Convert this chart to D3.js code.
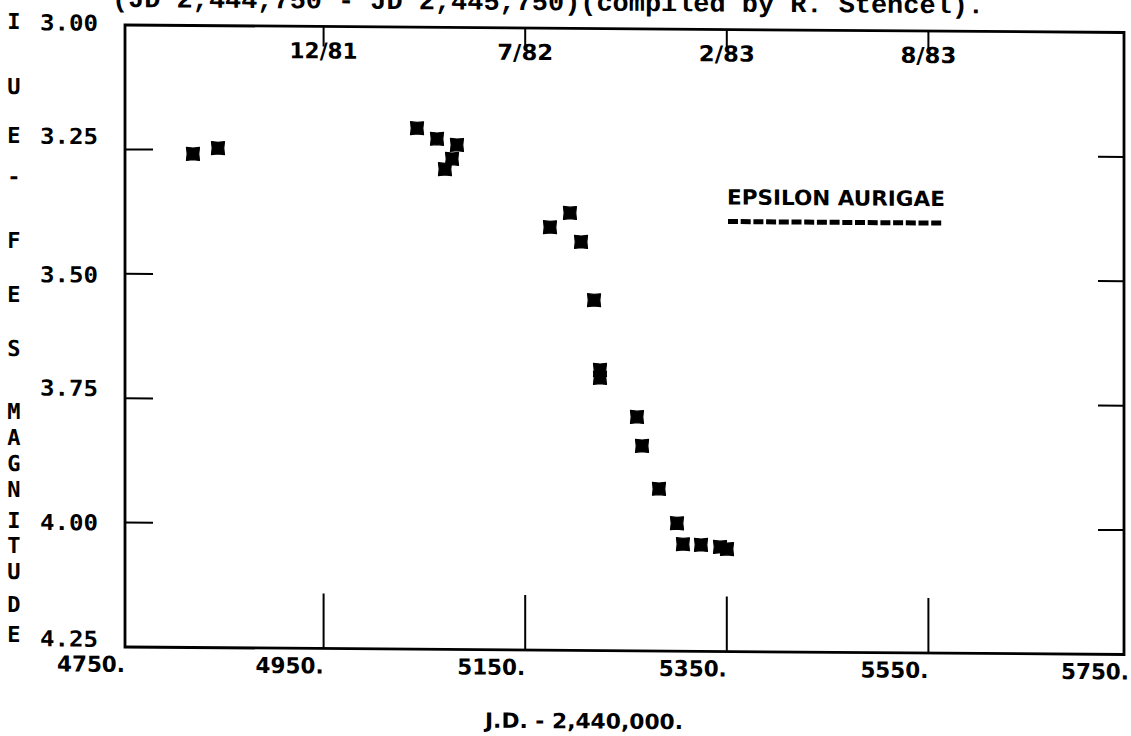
<!DOCTYPE html>
<html>
<head>
<meta charset="utf-8">
<script src="https://cdn.jsdelivr.net/npm/d3@7"></script>
<style>
  html, body { margin: 0; padding: 0; background: #fff; }
  svg { display: block; }
</style>
</head>
<body>
<svg id="chart" width="1131" height="736"></svg>
<script>
// ---- data ----
const jd = [4820.4, 4845.2, 5042.7, 5062.5, 5082.3, 5077.4, 5070.4, 5174.6, 5194.4, 5205.4,
            5218.3, 5224.2, 5224.2, 5260.9, 5265.9, 5282.7, 5300.6, 5306.5, 5324.4, 5343.3, 5350.2];
const magnitude = [3.258, 3.246, 3.203, 3.224, 3.236, 3.264, 3.285, 3.400, 3.371, 3.429,
                   3.546, 3.686, 3.702, 3.780, 3.838, 3.924, 3.993, 4.035, 4.036, 4.040, 4.044];
const xTickValues = [4750, 4950, 5150, 5350, 5550, 5750];
const xTickLabels = ["4750.", "4950.", "5150.", "5350.", "5550.", "5750."];
const topTickValues = [4950, 5150, 5350, 5550];
const topTickLabels = ["12/81", "7/82", "2/83", "8/83"];
const yTickValues = [3.00, 3.25, 3.50, 3.75, 4.00, 4.25];
const yTickLabels = ["3.00", "3.25", "3.50", "3.75", "4.00", "4.25"];
const yAxisLetters = ["I", "U", "E", "-", "F", "E", "S", "M", "A", "G", "N", "I", "T", "U", "D", "E"];
const seriesName = "EPSILON AURIGAE";
const titleText = "(JD 2,444,750 - JD 2,445,750)(compiled by R. Stencel).";
const xAxisTitle = "J.D. - 2,440,000.";

// ---- drawing ----
const svg = d3.select("#chart");
// slight skew of the scanned page
const skew = 0.0075;
const g = svg.append("g").attr("transform", `matrix(1,${skew},0,1,0,${-skew * 125})`);

const x = d3.scaleLinear().domain([4750, 5750]).range([122, 1130]);
const y = d3.scaleLinear().domain([3.0, 4.25]).range([25, 647]);

const frameL = 125, frameR = 1124, frameT = y(3.0), frameB = y(4.25);
const ink = "#000";
const plotFont = "DejaVu Sans Condensed, DejaVu Sans, sans-serif";
const monoFont = "DejaVu Sans Mono, monospace";

// title (cut off at top, as in the scan)
g.append("text")
  .attr("x", 112).attr("y", 7)
  .attr("font-family", "Liberation Mono, DejaVu Sans Mono, monospace")
  .attr("font-weight", "bold").attr("font-size", 26)
  .attr("textLength", 872).attr("lengthAdjust", "spacingAndGlyphs")
  .attr("fill", ink).text(titleText);

// frame
g.append("rect")
  .attr("x", frameL).attr("y", frameT)
  .attr("width", frameR - frameL).attr("height", frameB - frameT)
  .attr("fill", "none").attr("stroke", ink).attr("stroke-width", 2.8);

// bottom inner ticks + labels
const innerX = xTickValues.slice(1, -1);
g.append("g").selectAll("line").data(innerX).join("line")
  .attr("x1", d => x(d)).attr("x2", d => x(d))
  .attr("y1", frameB).attr("y2", frameB - 55)
  .attr("stroke", ink).attr("stroke-width", 2);
g.append("g").selectAll("text").data(xTickValues).join("text")
  .attr("x", (d, i) => i === 0 ? frameL : (i === xTickValues.length - 1 ? 1129 : x(d)))
  .attr("y", 672)
  .attr("text-anchor", "end")
  .attr("font-family", plotFont)
  .attr("font-weight", "bold")
  .attr("font-size", 22)
  .attr("textLength", 68).attr("lengthAdjust", "spacingAndGlyphs")
  .attr("fill", ink)
  .text((d, i) => xTickLabels[i]);

// top date ticks + labels
g.append("g").selectAll("line").data(topTickValues).join("line")
  .attr("x1", d => x(d)).attr("x2", d => x(d))
  .attr("y1", frameT).attr("y2", frameT + 20)
  .attr("stroke", ink).attr("stroke-width", 2);
g.append("g").selectAll("text").data(topTickValues).join("text")
  .attr("x", d => x(d)).attr("y", 57)
  .attr("text-anchor", "middle")
  .attr("font-family", plotFont)
  .attr("font-weight", "bold")
  .attr("font-size", 22)
  .attr("textLength", (d, i) => topTickLabels[i].length === 5 ? 68 : 56)
  .attr("lengthAdjust", "spacingAndGlyphs")
  .attr("fill", ink)
  .text((d, i) => topTickLabels[i]);

// y ticks left & right (inner)
const innerY = yTickValues.slice(1, -1);
g.append("g").selectAll("line").data(innerY).join("line")
  .attr("x1", frameL).attr("x2", frameL + 28)
  .attr("y1", d => y(d)).attr("y2", d => y(d))
  .attr("stroke", ink).attr("stroke-width", 2);
g.append("g").selectAll("line").data(innerY).join("line")
  .attr("x1", frameR - 26).attr("x2", frameR)
  .attr("y1", d => y(d)).attr("y2", d => y(d))
  .attr("stroke", ink).attr("stroke-width", 2);

// y tick labels (as printed, slightly offset from ticks)
const yLabelOffset = [-2, -13, 1, -10, 0, -8];
g.append("g").selectAll("text").data(yTickValues).join("text")
  .attr("x", 40)
  .attr("y", (d, i) => y(d) + yLabelOffset[i] + 8)
  .attr("font-family", monoFont)
  .attr("font-weight", "bold").attr("font-size", 22)
  .attr("textLength", 58).attr("lengthAdjust", "spacingAndGlyphs")
  .attr("fill", ink)
  .text((d, i) => yTickLabels[i]);

// vertical axis title letters
const letterY = [22, 87, 136, 177, 241, 295, 349, 412, 438, 464, 490, 521, 546, 572, 605, 635];
g.append("g").selectAll("text").data(yAxisLetters).join("text")
  .attr("x", 14).attr("y", (d, i) => letterY[i] + 8)
  .attr("text-anchor", "middle")
  .attr("font-family", monoFont)
  .attr("font-weight", "bold").attr("font-size", 22)
  .attr("fill", ink)
  .text(d => d);

// x axis title
g.append("text")
  .attr("x", 584).attr("y", 725)
  .attr("text-anchor", "middle")
  .attr("font-family", plotFont)
  .attr("font-weight", "bold").attr("font-size", 21)
  .attr("textLength", 198).attr("lengthAdjust", "spacingAndGlyphs")
  .attr("fill", ink).text(xAxisTitle);

// legend
g.append("text")
  .attr("x", 727).attr("y", 200)
  .attr("font-family", plotFont)
  .attr("font-weight", "bold")
  .attr("font-size", 21)
  .attr("textLength", 218).attr("lengthAdjust", "spacingAndGlyphs")
  .attr("fill", ink).text(seriesName);
g.append("line")
  .attr("x1", 728).attr("x2", 943)
  .attr("y1", 217).attr("y2", 217)
  .attr("stroke", ink).attr("stroke-width", 5)
  .attr("stroke-dasharray", "10,2.7");

// points: plotter asterisk blobs
const s = 6.5, n = 0.7;
const blob = `M${-s},${-s} L0,${-s + n} L${s},${-s} L${s - n},0 L${s},${s} L0,${s - n} L${-s},${s} L${-s + n},0 Z`;
g.append("g").selectAll("path").data(jd).join("path")
  .attr("d", blob)
  .attr("transform", (d, i) => `translate(${x(d)},${y(magnitude[i])})`)
  .attr("fill", ink)
  .attr("stroke", ink).attr("stroke-width", 1.2).attr("stroke-linejoin", "round");
</script>
</body>
</html>
